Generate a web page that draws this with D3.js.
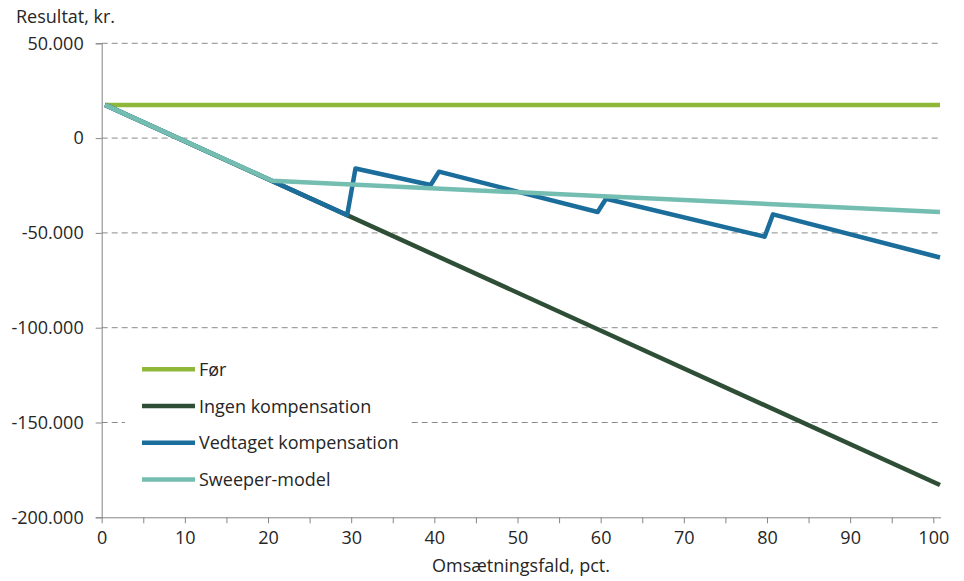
<!DOCTYPE html>
<html>
<head>
<meta charset="utf-8">
<script src="https://cdn.jsdelivr.net/npm/d3@7"></script>
<style>
  body { margin: 0; background: #fff; }
  text { font-family: "Open Sans", sans-serif; fill: #262626; }
</style>
</head>
<body>
<svg id="chart" width="964" height="581"></svg>
<script>
// data (pct. fald -> resultat i kr.)
var foerX = [0, 100];
var foerY = [17500, 17500];
var ingenX = [0, 100];
var ingenY = [17500, -183000];
var vedtagetX = [0, 29, 30, 39, 40, 59, 60, 79, 80, 100];
var vedtagetY = [17500, -40600, -16000, -24700, -17700, -39000, -32000, -52000, -40200, -63000];
var sweeperX = [0, 20, 100];
var sweeperY = [17500, -22500, -39000];

var seriesNames = ["Før", "Ingen kompensation", "Vedtaget kompensation", "Sweeper-model"];
var seriesColors = ["#8fb83a", "#2e4e36", "#1b6e9b", "#74bdb1"];
var yTicks = [50000, 0, -50000, -100000, -150000, -200000];
var xTicks = [0, 5, 10, 15, 20, 25, 30, 35, 40, 45, 50, 55, 60, 65, 70, 75, 80, 85, 90, 95, 100];

function zip(xs, ys) { return xs.map(function(d, i) { return {x: d, y: ys[i]}; }); }
var series = [zip(foerX, foerY), zip(ingenX, ingenY), zip(vedtagetX, vedtagetY), zip(sweeperX, sweeperY)];

var svg = d3.select("#chart");

// danish number format
var dk = d3.formatLocale({decimal: ",", thousands: ".", grouping: [3], currency: ["", " kr."], minus: "-"});
var fmt = dk.format(",");

var y = d3.scaleLinear().domain([-200000, 50000]).range([517.3, 43.3]);
// tick positions and data positions are slightly offset in the original
var xt = d3.scaleLinear().domain([0, 100]).range([101.7, 933.3]);
var x = d3.scaleLinear().domain([0, 100]).range([105, 940]);

// gridlines
svg.append("g")
  .selectAll("line")
  .data(yTicks.filter(function(d) { return d !== -200000; }))
  .enter().append("line")
    .attr("x1", 101.7).attr("x2", 940)
    .attr("y1", function(d) { return y(d); })
    .attr("y2", function(d) { return y(d); })
    .attr("stroke", "#8a8a8a")
    .attr("stroke-width", 1)
    .attr("stroke-dasharray", "6,4");

// y axis
var yAxis = svg.append("g")
  .attr("transform", "translate(101.7,0)")
  .call(d3.axisLeft(y).tickValues(yTicks).tickFormat(fmt).tickSize(6).tickPadding(12));
yAxis.select(".domain").attr("stroke", "#868686");
yAxis.selectAll(".tick line").attr("stroke", "#868686");
yAxis.selectAll("text").style("font-size", "18px").attr("fill", "#262626").attr("font-family", null);

// x axis
var xAxis = svg.append("g")
  .attr("transform", "translate(0,517.3)")
  .call(d3.axisBottom(xt).tickValues(xTicks)
    .tickFormat(function(d) { return d % 10 === 0 ? d : ""; })
    .tickSize(6).tickSizeOuter(0).tickPadding(8));
xAxis.select(".domain").attr("stroke", "#868686").attr("d", "M101.7,0.5H941");
xAxis.selectAll(".tick line").attr("stroke", "#868686");
xAxis.selectAll("text").style("font-size", "18px").attr("fill", "#262626").attr("font-family", null);

// axis titles
svg.append("text")
  .attr("x", 16).attr("y", 23)
  .style("font-size", "18px")
  .text("Resultat, kr.");

svg.append("text")
  .attr("x", 521).attr("y", 572)
  .attr("text-anchor", "middle")
  .style("font-size", "18px")
  .text("Omsætningsfald, pct.");

// lines
var line = d3.line()
  .x(function(d) { return x(d.x); })
  .y(function(d) { return y(d.y); });

svg.append("g")
  .selectAll("path")
  .data(series)
  .enter().append("path")
    .attr("d", line)
    .attr("fill", "none")
    .attr("stroke", function(d, i) { return seriesColors[i]; })
    .attr("stroke-width", 4.5)
    .attr("stroke-linejoin", "round");

// legend with white box over the gridline
var legend = svg.append("g");
legend.append("rect")
  .attr("x", 125).attr("y", 345)
  .attr("width", 284).attr("height", 155)
  .attr("fill", "#fff");

var rows = legend.selectAll("g.row")
  .data(seriesNames)
  .enter().append("g")
    .attr("class", "row")
    .attr("transform", function(d, i) { return "translate(0," + (369.3 + i * 36.7) + ")"; });

rows.append("line")
  .attr("x1", 142).attr("x2", 195)
  .attr("stroke", function(d, i) { return seriesColors[i]; })
  .attr("stroke-width", 4.5);

rows.append("text")
  .attr("x", 199)
  .attr("y", 6.5)
  .style("font-size", "18px")
  .text(function(d) { return d; });
</script>
</body>
</html>
